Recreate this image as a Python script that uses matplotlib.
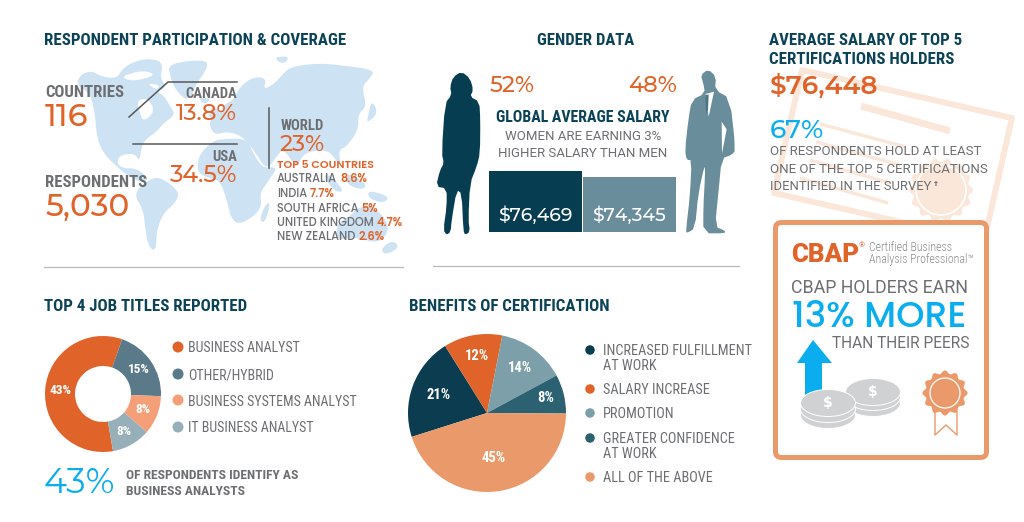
"""Salary survey infographic: respondent coverage, gender, job titles, certification."""
import matplotlib
matplotlib.use("Agg")
import matplotlib.pyplot as plt
import numpy as np
from matplotlib.patches import Circle, Ellipse, FancyBboxPatch, Polygon

# Data
job_titles = ["BUSINESS ANALYST", "OTHER/HYBRID", "BUSINESS SYSTEMS ANALYST", "IT BUSINESS ANALYST"]
job_share = [43, 15, 8, 8]
benefits = ["INCREASED FULFILLMENT\nAT WORK", "SALARY INCREASE", "PROMOTION",
            "GREATER CONFIDENCE\nAT WORK", "ALL OF THE ABOVE"]
benefit_share = [21, 12, 14, 8, 45]
salary_labels = ["Women", "Men"]
salary_values = [76469, 74345]
top_countries = ["AUSTRALIA", "INDIA", "SOUTH AFRICA", "UNITED KINGDOM", "NEW ZEALAND"]
top_country_share = ["8.6%", "7.7%", "5%", "4.7%", "2.6%"]

# Colours
NAVY = "#0A4257"
DARK = "#063D50"
GREY = "#6D6E71"
ORANGE = "#E0642A"
PEACH = "#EA9A6A"
BLUE = "#0AAEEF"
MAP = "#CDE3F4"
CERT = "#FBE7DA"

job_colors = ["#E0642A", "#5A7A8A", "#F59F78", "#97AFB8"]
benefit_colors = ["#0B3C50", "#E0642A", "#7C9FA9", "#2C6171", "#EA9A6A"]

NARROW = ["Roboto Condensed", "Roboto", "DejaVu Sans"]
PLAIN = ["Roboto", "DejaVu Sans"]
WIDE = ["Montserrat Alternates", "Inter", "DejaVu Sans"]
# the alternates cut has odd capitals, so words go in a plainer geometric face
GEO = ["Poppins", "Inter", "DejaVu Sans"]

fig = plt.figure(figsize=(10.24, 5.22), dpi=100)
ax = fig.add_axes([0, 0, 1, 1])
ax.set_xlim(0, 1024)
ax.set_ylim(522, 0)
ax.axis("off")


def txt(x, y, s, size=10, color=GREY, weight="normal", family=NARROW, ha="left", zorder=5):
    return ax.text(x, y, s, fontsize=size, color=color, fontweight=weight, family=family,
                   ha=ha, va="baseline", zorder=zorder)


def heading(x, y, s, ha="left", size=12.2):
    return txt(x, y, s, size=size, color=NAVY, weight="bold", ha=ha)


def big(x, y, s, size=22, color=ORANGE, ha="left", weight="medium"):
    return txt(x, y, s, size=size, color=color, weight=weight, family=WIDE, ha=ha)


def sub_axes(cx, cy, r):
    # axes square around a pie, given in pixels from the top left
    sub = fig.add_axes([(cx - r) / 1024, 1 - (cy + r) / 522, 2 * r / 1024, 2 * r / 522])
    sub.set_xlim(-1, 1)
    sub.set_ylim(-1, 1)
    sub.axis("off")
    return sub


def soften(pts, rounds=2):
    # corner cutting so the traced outlines don't look like polygons
    pts = np.array(pts, dtype=float)
    for _ in range(rounds):
        nxt = np.roll(pts, -1, axis=0)
        pts = np.column_stack([0.75 * pts + 0.25 * nxt, 0.25 * pts + 0.75 * nxt]).reshape(-1, 2)
    return pts


# --- World map (rough outlines, traced at 3x) ---
map_shapes = [
    # north america
    [(230, 195), (240, 165), (275, 152), (305, 170), (350, 175), (365, 150), (390, 130), (440, 115), (490, 125),
     (480, 175), (500, 200), (470, 215), (490, 225), (515, 265), (525, 285), (490, 310), (470, 335), (435, 360),
     (425, 380), (418, 425), (405, 400), (360, 405), (350, 430), (370, 445), (405, 445), (430, 460), (445, 480),
     (420, 485), (395, 475), (350, 440), (310, 400), (290, 350), (285, 280), (270, 220)],
    # greenland
    [(505, 130), (620, 118), (622, 145), (590, 190), (565, 245), (530, 215), (510, 170)],
    # south america
    [(445, 480), (480, 470), (540, 515), (525, 550), (490, 580), (470, 630), (468, 695), (445, 680),
     (435, 620), (430, 570), (400, 520)],
    # africa
    [(625, 375), (650, 358), (720, 355), (745, 365), (765, 410), (790, 445), (835, 440), (800, 490),
     (780, 520), (785, 560), (760, 590), (720, 612), (695, 600), (680, 540), (660, 480), (610, 470),
     (592, 450), (595, 410)],
    # eurasia
    [(640, 345), (625, 300), (655, 290), (670, 255), (700, 240), (720, 200), (760, 170), (800, 175),
     (790, 210), (825, 190), (850, 160), (875, 140), (950, 130), (1020, 135), (1125, 150), (1110, 175),
     (1085, 200), (1100, 260), (1075, 280), (1075, 330), (1040, 380), (1015, 390), (1025, 445), (990, 395),
     (960, 390), (910, 400), (890, 445), (850, 385), (830, 410), (800, 450), (770, 405), (750, 375),
     (720, 345), (680, 335)],
    # australia
    [(1010, 610), (1050, 590), (1075, 560), (1125, 560), (1172, 620), (1140, 672), (1060, 650), (1010, 662)],
    # islands
    [(640, 255), (665, 280), (640, 305), (625, 285)],
    [(595, 232), (635, 235), (612, 255)],
    [(820, 112), (870, 108), (850, 135)],
    [(1115, 240), (1135, 280), (1100, 310), (1105, 285)],
    [(985, 460), (1035, 515), (1005, 515), (970, 470)],
    [(1040, 455), (1100, 490), (1090, 510), (1040, 495)],
    [(1105, 510), (1170, 530), (1150, 550), (1105, 535)],
    [(812, 545), (795, 610), (778, 600), (795, 555)],
    [(1175, 660), (1200, 680), (1160, 705), (1140, 690)],
]
for shape in map_shapes:
    ax.add_patch(Polygon(soften(shape) / 3 + [0, 20], closed=True, fc=MAP, ec="none", zorder=1))
# hudson bay and the gaps between the arctic islands
for gap in ([(410, 240), (445, 235), (465, 275), (430, 305), (420, 280)],
            [(360, 170), (430, 150), (470, 165), (400, 185)],
            [(440, 190), (480, 195), (470, 210)]):
    ax.add_patch(Polygon(soften(gap) / 3 + [0, 20], closed=True, fc="white", ec="none", zorder=1))

# --- Respondent participation ---
heading(44, 45, "RESPONDENT PARTICIPATION & COVERAGE")
txt(45, 97, "COUNTRIES", size=12, weight="bold")
big(45, 126, "116", size=23)
txt(45, 187, "RESPONDENTS", size=12, weight="bold")
big(45, 216, "5,030", size=22.4)
ax.plot([129, 168, 237], [117, 82, 82], color="#58595B", lw=1.1, zorder=3)
ax.plot([133, 237], [144, 144], color="#58595B", lw=1.1, zorder=3)
ax.plot([269, 269], [108, 168], color="#58595B", lw=1.1, zorder=3)
txt(237, 98, "CANADA", size=10.5, weight="bold", ha="right")
big(237, 120, "13.8%", size=16.6, ha="right")
txt(237, 161, "USA", size=10.5, weight="bold", ha="right")
big(237, 182, "34.5%", size=16.8, ha="right")
txt(281, 130, "WORLD", size=10.5, weight="bold")
big(280, 151, "23%", size=16.3)
txt(277, 168, "TOP 5 COUNTRIES", size=8, color=ORANGE, weight="semibold", family=GEO)

row_y = [182, 197, 212, 226, 240]
fig.canvas.draw()
renderer = fig.canvas.get_renderer()
for name, share, y in zip(top_countries, top_country_share, row_y):
    first = txt(277, y, name, size=8.2, weight="medium", family=GEO)
    bb = first.get_window_extent(renderer)
    txt(bb.x1 + 3, y, share, size=8.2, color=ORANGE, weight="semibold", family=GEO)

ax.plot([44, 403], [267, 267], color="#B8B8B8", lw=0.9)
ax.plot([433, 739], [266, 266], color="#B8B8B8", lw=0.9)

# --- Gender data ---
heading(586, 45, "GENDER DATA", ha="center", size=12)
big(490, 92, "52%", size=16.3)
big(677, 92, "48%", size=16.3, ha="right")
heading(583, 122, "GLOBAL AVERAGE SALARY", ha="center", size=11.4)
txt(583, 140, "WOMEN ARE EARNING 3%", size=9.5, family=PLAIN, ha="center")
txt(583, 157, "HIGHER SALARY THAN MEN", size=9.5, family=PLAIN, ha="center")

# salary bars live on their own axes, baseline cut so the small gap shows
bar_ax = fig.add_axes([489 / 1024, 1 - 232 / 522, 187 / 1024, 61 / 522])
bar_ax.bar(salary_labels, salary_values, width=0.995, color=[DARK, "#6A8D9B"])
bar_ax.set_xlim(-0.5, 1.5)
bar_ax.set_ylim(54875, 76469)
bar_ax.axis("off")
for i, v in enumerate(salary_values):
    bar_ax.text(i, 54875 + 3800, f"${v:,}", color="white", fontsize=13.5, fontweight="medium",
                family=WIDE, ha="center", va="baseline")

woman = [(125, 155), (150, 175), (160, 210), (150, 230), (178, 245), (181, 300), (180, 400), (170, 440),
         (150, 490), (145, 600), (150, 635), (135, 645), (130, 630), (125, 520), (110, 510), (95, 600),
         (92, 635), (80, 645), (70, 630), (80, 560), (80, 505), (48, 500), (60, 450), (72, 430), (65, 400),
         (75, 250), (95, 225), (90, 200), (100, 170)]
man = [(865, 148), (888, 170), (885, 210), (930, 235), (947, 390), (935, 405), (905, 415), (895, 520),
       (885, 620), (915, 632), (915, 640), (850, 640), (850, 560), (855, 470), (855, 430), (835, 520),
       (825, 625), (800, 640), (798, 630), (810, 525), (815, 420), (800, 420), (795, 390), (805, 300),
       (815, 240), (855, 220), (850, 190), (842, 165)]
ax.add_patch(Polygon(soften(woman, 1) / 3 + [420, 20], closed=True, fc=DARK, ec="none"))
ax.add_patch(Polygon(soften(man, 1) / 3 + [420, 20], closed=True, fc="#6A8D9B", ec="none"))
ax.add_patch(Polygon(np.array([(856, 222), (882, 215), (866, 290)]) / 3 + [420, 20], closed=True, fc="white", lw=0))
ax.add_patch(Polygon(np.array([(856, 224), (866, 224), (864, 270), (858, 280)]) / 3 + [420, 20], closed=True, fc="#4E7382", lw=0))
ax.add_patch(Polygon(np.array([(905, 305), (920, 328), (906, 400)]) / 3 + [420, 20], closed=True, fc="white", lw=0))

# --- Certificate behind the right column ---
cert = [(802, 70), (1012, 118), (984, 241), (774, 193)]
ax.add_patch(Polygon(cert, closed=True, fc="none", ec=CERT, lw=4.3, joinstyle="round", zorder=1))
ax.plot([861, 950], [106, 131], color=CERT, lw=5, zorder=1, solid_capstyle="butt")
for line in ([(820, 124), (906, 147)], [(816, 142), (900, 165)], [(810, 160), (890, 183)], [(800, 178), (888, 203)]):
    ax.plot(*zip(*line), color=CERT, lw=2.5, zorder=1, solid_capstyle="butt")
theta = np.linspace(0, 2 * np.pi, 240)
ax.fill(941 + (30 + 2 * np.cos(14 * theta)) * np.cos(theta), 190 + (30 + 2 * np.cos(14 * theta)) * np.sin(theta),
        color=CERT, lw=0, zorder=1)
ax.add_patch(Circle((941, 190), 25, fc="none", ec="white", lw=1.2, zorder=1))

heading(769, 45, "AVERAGE SALARY OF TOP 5")
heading(769, 64, "CERTIFICATIONS HOLDERS")
big(769, 94, "$76,448", size=19, weight="semibold")
big(770, 138, "67%", size=19, color=BLUE)
txt(770, 155, "OF RESPONDENTS HOLD AT LEAST", size=9.5, family=PLAIN)
txt(770, 173, "ONE OF THE TOP 5 CERTIFICATIONS", size=9.5, family=PLAIN)
txt(770, 190, "IDENTIFIED IN THE SURVEY", size=9.4, family=PLAIN)
txt(934, 186, "\u2020", size=6, weight="bold")

# --- CBAP box ---
ax.add_patch(FancyBboxPatch((775.5, 222.5), 211, 235, boxstyle="round,pad=0,rounding_size=6",
                            fc="white", ec=PEACH, lw=3.6, zorder=2))
txt(791, 262, "CBAP", size=18.6, color=ORANGE, weight=900, family=PLAIN, zorder=6)
txt(859, 247, "\u00ae", size=5.5, color=ORANGE, zorder=6)
txt(869, 251, "Certified Business", size=8.6, color="#8A8C8E", weight="light", zorder=6)
txt(869, 263, "Analysis Professional\u2122", size=8.6, color="#8A8C8E", weight="light", zorder=6)
txt(791, 293, "CBAP HOLDERS EARN", size=12.8, family=PLAIN, zorder=6)
txt(792, 327, "13% MORE", size=26, color=BLUE, weight="medium", family=GEO, zorder=6)
txt(969, 348, "THAN THEIR PEERS", size=11.2, family=PLAIN, ha="right", zorder=6)

arrow = [(813, 340), (832, 363), (822, 363), (822, 400), (805, 400), (805, 363), (797, 363)]
ax.add_patch(Polygon(arrow, closed=True, fc=BLUE, ec="none", zorder=3))
coin_grey = "#CFD1D3"
for cx, cy in [(873, 403), (873, 397), (873, 392), (828, 415), (828, 409), (828, 403)]:
    ax.add_patch(Ellipse((cx, cy), 55, 27, fc=coin_grey, ec="white", lw=0.7, zorder=4))
for cx, cy in [(873, 392), (828, 403)]:
    ax.text(cx, cy, "$", fontsize=10, color="white", fontweight="bold", ha="center", va="center", zorder=5)

sx = 945 + (21 + 1.6 * np.cos(12 * theta)) * np.cos(theta)
sy = 393 + (21 + 1.6 * np.cos(12 * theta)) * np.sin(theta)
ax.plot([935, 935, 946, 957, 957], [412, 435, 425, 435, 412], color=PEACH, lw=1, zorder=3)
ax.fill(sx, sy, color=PEACH, lw=0, zorder=4)
ax.add_patch(Circle((945, 393), 15, fc="none", ec="white", lw=0.9, zorder=5))

# --- Top 4 job titles ---
heading(44, 311, "TOP 4 JOB TITLES REPORTED")
job_ax = sub_axes(103, 394, 58)
wedges, labels = job_ax.pie(job_share, colors=job_colors, startangle=280, counterclock=False, radius=1,
                            labels=[f"{v}%" for v in job_share], labeldistance=0.74,
                            wedgeprops=dict(width=30 / 58, lw=0),
                            textprops=dict(color="white", fontsize=9.5, fontweight="bold", family=NARROW))
for t in labels:
    t.set_ha("center")
    t.set_va("center")
job_ax.set_xlim(-1, 1)
job_ax.set_ylim(-1, 1)

for name, c, y in zip(job_titles, job_colors, [347, 374, 400, 427]):
    ax.add_patch(Ellipse((178, y), 11, 11, fc=c, ec="none"))
    ax.text(188, y + 1.5, name, fontsize=10, color=GREY, family=NARROW, va="center")

big(44, 493, "43%", size=25, color=BLUE, weight="normal")
txt(126, 479, "OF RESPONDENTS IDENTIFY AS", size=9.7, weight="bold")
txt(126, 495, "BUSINESS ANALYSTS", size=9.7, weight="bold")

# --- Benefits of certification ---
heading(409, 311, "BENEFITS OF CERTIFICATION")
ben_ax = sub_axes(487, 413, 79)
wedges, labels = ben_ax.pie(benefit_share, colors=benefit_colors, startangle=197.6, counterclock=False, radius=1,
                            labels=[f"{v}%" for v in benefit_share], labeldistance=0.7,
                            wedgeprops=dict(lw=0),
                            textprops=dict(color="white", fontsize=10.5, fontweight="bold", family=NARROW))
for t, d in zip(labels, [0.66, 0.73, 0.71, 0.76, 0.58]):
    t.set_ha("center")
    t.set_va("center")
    t.set_position(np.array(t.get_position()) * d / 0.7)
ben_ax.set_xlim(-1, 1)
ben_ax.set_ylim(-1, 1)

legend_y = [350, 389, 413, 438, 477]
for name, c, y in zip(benefits, benefit_colors, legend_y):
    ax.add_patch(Ellipse((590, y), 9.5, 9.5, fc=c, ec="none"))
    for i, part in enumerate(name.split("\n")):
        ax.text(603, y + 1 + 15 * i, part, fontsize=10.3, color=GREY, family=NARROW, va="center")

fig.savefig("out.png", dpi=100)
